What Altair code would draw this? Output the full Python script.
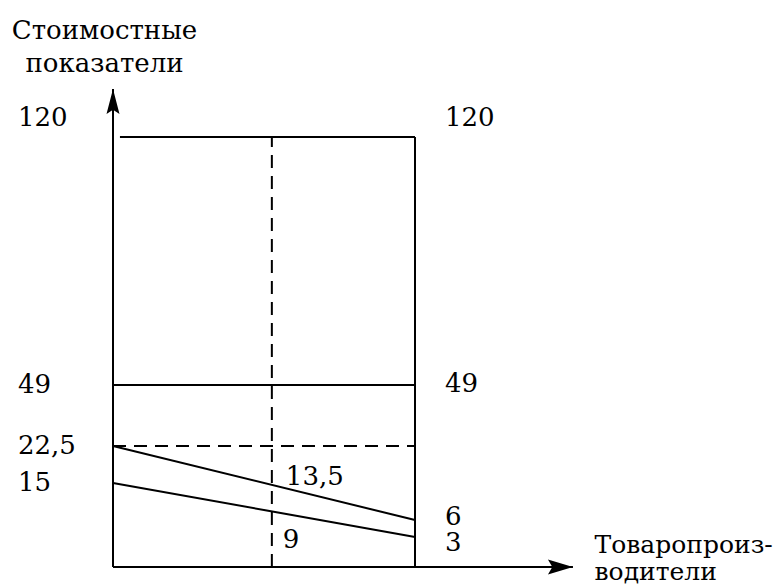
import altair as alt
import pandas as pd

# ---- values read from the schematic ----
Y_LEVELS = [0, 3, 6, 15, 22.5, 49, 120, 135]          # piecewise y scale stops (135 = arrow tip)
X_DASH = 0.526                                          # position of dashed vertical (right wall = 1)
X_TOP_START = 0.023
X_END = 1.523
Y_TOP = 135

solid_x = [0, 0, X_TOP_START, 1, 0, 0, 0]
solid_y = [0, 0, 120, 0, 49, 22.5, 15]
solid_x2 = [0, X_END, 1, 1, 1, 1, 1]
solid_y2 = [Y_TOP, 0, 120, 120, 49, 6, 3]

dash_x = [X_DASH, 0]
dash_y = [0, 22.5]
dash_x2 = [X_DASH, 1]
dash_y2 = [120, 22.5]

left_vals = [49, 22.5, 15]
left_text = ["49", "22,5", "15"]

FONT = "DejaVu Serif"
FS = 26

xs = alt.Scale(domain=[0, 1], range=[105, 407], nice=False, zero=False)
ys = alt.Scale(domain=Y_LEVELS, range=[559, 529, 512, 475, 438, 377, 129, 81],
               nice=False, zero=False)

solid = pd.DataFrame({"x": solid_x, "y": solid_y, "x2": solid_x2, "y2": solid_y2})
dashed = pd.DataFrame({"x": dash_x, "y": dash_y, "x2": dash_x2, "y2": dash_y2})

base_x_axis = alt.Axis(
    title=["Товаропроиз-", "водители"], labels=False, ticks=False, domain=False, grid=False,
    titleX=586, titleY=-35, titleAlign="left", titleAngle=0, titleBaseline="alphabetic",
    titleFont=FONT, titleFontSize=25, titleFontWeight="normal", titleColor="black",
    titleLineHeight=27,
)
base_y_axis = alt.Axis(
    title=["Стоимостные", "показатели"], labels=False, ticks=False, domain=False, grid=False,
    titleX=96, titleY=30, titleAlign="center", titleAngle=0, titleBaseline="alphabetic",
    titleFont=FONT, titleFontSize=FS, titleFontWeight="normal", titleColor="black",
    titleLineHeight=33,
)

solid_layer = alt.Chart(solid).mark_rule(color="black", strokeWidth=2).encode(
    x=alt.X("x:Q", scale=xs, axis=base_x_axis),
    y=alt.Y("y:Q", scale=ys, axis=base_y_axis),
    x2="x2:Q", y2="y2:Q",
)
dashed_layer = alt.Chart(dashed).mark_rule(color="black", strokeWidth=2, strokeDash=[13, 8]).encode(
    x=alt.X("x:Q", scale=xs), y=alt.Y("y:Q", scale=ys), x2="x2:Q", y2="y2:Q",
)

up_arrow = "M0,0 L0.52,2 L0,1.65 L-0.52,2 Z"
right_arrow = "M0,0 L-2,0.6 L-1.65,0 L-2,-0.6 Z"
arrow_up = alt.Chart(pd.DataFrame({"x": [0], "y": [Y_TOP]})).mark_point(
    shape=up_arrow, size=625, filled=True, color="black", opacity=1, strokeWidth=0
).encode(x=alt.X("x:Q", scale=xs), y=alt.Y("y:Q", scale=ys))
arrow_right = alt.Chart(pd.DataFrame({"x": [X_END], "y": [0]})).mark_point(
    shape=right_arrow, size=625, filled=True, color="black", opacity=1, strokeWidth=0
).encode(x=alt.X("x:Q", scale=xs), y=alt.Y("y:Q", scale=ys))

def labels(vals, texts, col, dx, dy, align="left"):
    df = pd.DataFrame({"x": [col] * len(vals), "y": vals, "t": texts})
    return alt.Chart(df).mark_text(
        font=FONT, fontSize=FS, color="black", align=align, baseline="middle", dx=dx, dy=dy
    ).encode(x=alt.X("x:Q", scale=xs), y=alt.Y("y:Q", scale=ys), text="t:N")

layers = [
    solid_layer, dashed_layer, arrow_up, arrow_right,
    labels([120], ["120"], 0, -95, -19),
    labels(left_vals, left_text, 0, -95, 0),
    labels([120], ["120"], 1, 30, -19),
    labels([49], ["49"], 1, 30, -1),
    labels([6], ["6"], 1, 30, -3),
    labels([3], ["3"], 1, 30, 6),
    labels([13.5], ["13,5"], X_DASH, 14, -12),
    labels([9], ["9"], X_DASH, 11, 32),
]

chart = alt.layer(*layers).properties(
    width=768, height=579, padding=0, autosize="none"
).configure_view(stroke=None)

chart.save("out.html", embed_options={"renderer": "svg", "actions": False})
